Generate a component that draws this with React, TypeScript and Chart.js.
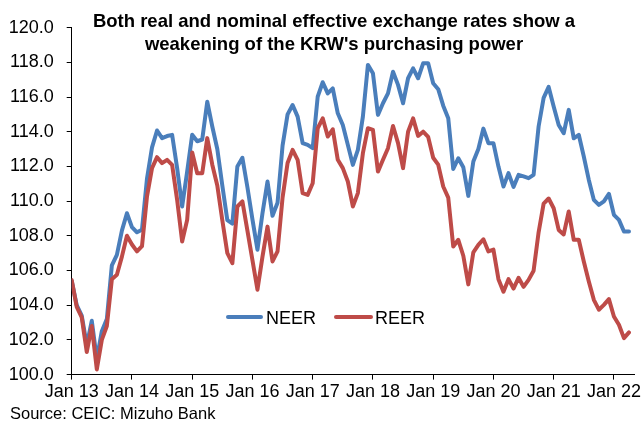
import { useEffect, useRef } from "react";
import { Chart, registerables } from "chart.js";

Chart.register(...registerables);

const yearLabels = ["Jan 13", "Jan 14", "Jan 15", "Jan 16", "Jan 17", "Jan 18", "Jan 19", "Jan 20", "Jan 21", "Jan 22"];
const yearTickMonths = [0, 12, 24, 36, 48, 60, 72, 84, 96, 108];

// Monthly values, Jan 2013 .. Apr 2022
const neer = [
  105.4, 104.0, 103.4, 101.7, 103.1, 100.9, 102.5, 103.2, 106.3, 106.9, 108.3, 109.3,
  108.5, 108.2, 108.35, 111.3, 113.1, 114.07, 113.63, 113.75, 113.82, 111.9, 109.69, 111.7,
  113.82, 113.45, 113.55, 115.73, 114.3, 113.0, 110.9, 108.9, 108.7, 112.0, 112.5, 110.8,
  108.95, 107.2, 109.3, 111.13, 109.15, 109.9, 113.2, 115.0, 115.54, 114.87, 113.34, 113.24,
  113.05, 116.02, 116.85, 116.21, 116.5, 115.06, 114.39, 113.24, 112.09, 112.95, 114.87, 117.85,
  117.37, 114.97, 115.64, 116.21, 117.46, 116.7, 115.64, 117.08, 117.65, 117.08, 117.94, 117.94,
  116.79, 116.45, 115.5, 114.78, 111.85, 112.47, 111.95, 110.3, 112.28, 113.0, 114.18, 113.34,
  113.34, 111.99, 110.84, 111.61, 110.82, 111.51, 111.42, 111.32, 111.51, 114.3, 115.95, 116.58,
  115.45, 114.39, 113.91, 115.26, 113.62, 113.82, 112.57, 111.22, 110.07, 109.78, 109.98, 110.42,
  109.21, 108.92, 108.25, 108.25,
];
const reer = [
  105.45, 103.9, 103.3, 101.3, 102.8, 100.3, 102.0, 102.8, 105.5, 105.75, 106.8, 108.0,
  107.5, 107.1, 107.4, 110.27, 111.9, 112.53, 112.19, 112.38, 112.09, 110.07, 107.67, 108.92,
  112.8, 111.6, 111.6, 113.63, 112.1, 110.9, 108.9, 107.0, 106.42, 109.69, 109.98, 108.3,
  106.6, 104.89, 106.8, 108.53, 106.52, 107.1, 110.2, 112.2, 112.95, 112.38, 110.46, 110.36,
  111.03, 114.2, 114.77, 113.72, 114.14, 112.38, 111.9, 111.13, 109.69, 110.46, 112.76, 114.2,
  114.1, 111.7, 112.38, 113.05, 114.33, 113.34, 111.9, 114.0, 114.77, 113.76, 114.0, 113.7,
  112.5, 112.1, 110.84, 110.2, 107.38, 107.77, 106.85, 105.2, 107.05, 107.48, 107.8, 107.1,
  107.2, 105.5, 104.78, 105.5, 104.96, 105.58, 105.06, 105.46, 105.98, 108.2, 109.85, 110.15,
  109.59, 108.34, 108.08, 109.4, 107.77, 107.77, 106.52, 105.37, 104.31, 103.74, 104.02, 104.35,
  103.35, 102.87, 102.1, 102.43,
];

const BLUE = "#4A7EBB";
const RED = "#BE4B48";
const FONT = "'Liberation Sans', Arial, sans-serif";

export default function App() {
  const ref = useRef<HTMLCanvasElement | null>(null);

  useEffect(() => {
    if (!ref.current) return;
    const chart = new Chart(ref.current, {
      type: "line",
      data: {
        datasets: [
          {
            label: "NEER",
            data: neer.map((v, i) => ({ x: i, y: v })),
            borderColor: BLUE,
            backgroundColor: BLUE,
            borderWidth: 4,
            pointRadius: 0,
            tension: 0,
            borderJoinStyle: "round",
            borderCapStyle: "round",
            order: 1,
          },
          {
            label: "REER",
            data: reer.map((v, i) => ({ x: i, y: v })),
            borderColor: RED,
            backgroundColor: RED,
            borderWidth: 4,
            pointRadius: 0,
            tension: 0,
            borderJoinStyle: "round",
            borderCapStyle: "round",
            order: 0,
          },
        ],
      },
      options: {
        responsive: false,
        animation: false,
        layout: { padding: { left: 0, right: 10, top: 27.6, bottom: 0 } },
        plugins: {
          legend: { display: false },
          tooltip: { enabled: false },
          title: { display: false },
        },
        scales: {
          x: {
            type: "linear",
            min: 0,
            max: 112,
            afterBuildTicks: (s: any) => {
              s.ticks = yearTickMonths.map((v) => ({ value: v }));
            },
            afterFit: (s: any) => {
              s.height = 50.4;
            },
            ticks: {
              autoSkip: false,
              maxRotation: 0,
              padding: 2,
              color: "#000",
              font: { family: FONT, size: 18 },
              callback: (_v: any, i: number) => yearLabels[i],
            },
            grid: { drawOnChartArea: false, drawTicks: true, tickLength: 5, color: "#000" },
            border: { display: true, color: "#000", width: 1 },
          },
          y: {
            min: 100,
            max: 120,
            afterFit: (s: any) => {
              s.width = 71.7;
            },
            ticks: {
              stepSize: 2,
              padding: 13,
              color: "#000",
              font: { family: FONT, size: 18 },
              callback: (v: any) => Number(v).toFixed(1),
            },
            grid: { drawOnChartArea: false, drawTicks: true, tickLength: 5, color: "#000" },
            border: { display: true, color: "#000", width: 1 },
          },
        },
      },
    });
    return () => chart.destroy();
  }, []);

  const legendText: any = {
    position: "absolute",
    top: 308.8,
    fontFamily: FONT,
    fontSize: 18,
    lineHeight: "18px",
    color: "#000",
    whiteSpace: "nowrap",
  };

  return (
    <div style={{ position: "fixed", left: 0, top: 0, width: 644, height: 425, background: "#fff", overflow: "hidden" }}>
      <canvas ref={ref} width={644} height={425} style={{ position: "absolute", left: 0, top: 0, display: "block" }} />
      <div
        style={{
          position: "absolute",
          left: 34,
          width: 600,
          top: 9.1,
          textAlign: "center",
          fontFamily: FONT,
          fontWeight: "bold",
          fontSize: 18.5,
          lineHeight: "23px",
          color: "#000",
        }}
      >
        Both real and nominal effective exchange rates show a
        <br />
        weakening of the KRW's purchasing power
      </div>
      <div style={{ position: "absolute", left: 226, top: 315.3, width: 37, height: 4, background: BLUE, borderRadius: 2 }} />
      <div style={{ ...legendText, left: 266 }}>NEER</div>
      <div style={{ position: "absolute", left: 334, top: 315.3, width: 39, height: 4, background: RED, borderRadius: 2 }} />
      <div style={{ ...legendText, left: 375 }}>REER</div>
      <div
        style={{
          position: "absolute",
          left: 10,
          top: 405,
          fontFamily: FONT,
          fontSize: 16.5,
          lineHeight: "16.5px",
          color: "#000",
          whiteSpace: "nowrap",
        }}
      >
        Source: CEIC: Mizuho Bank
      </div>
    </div>
  );
}
